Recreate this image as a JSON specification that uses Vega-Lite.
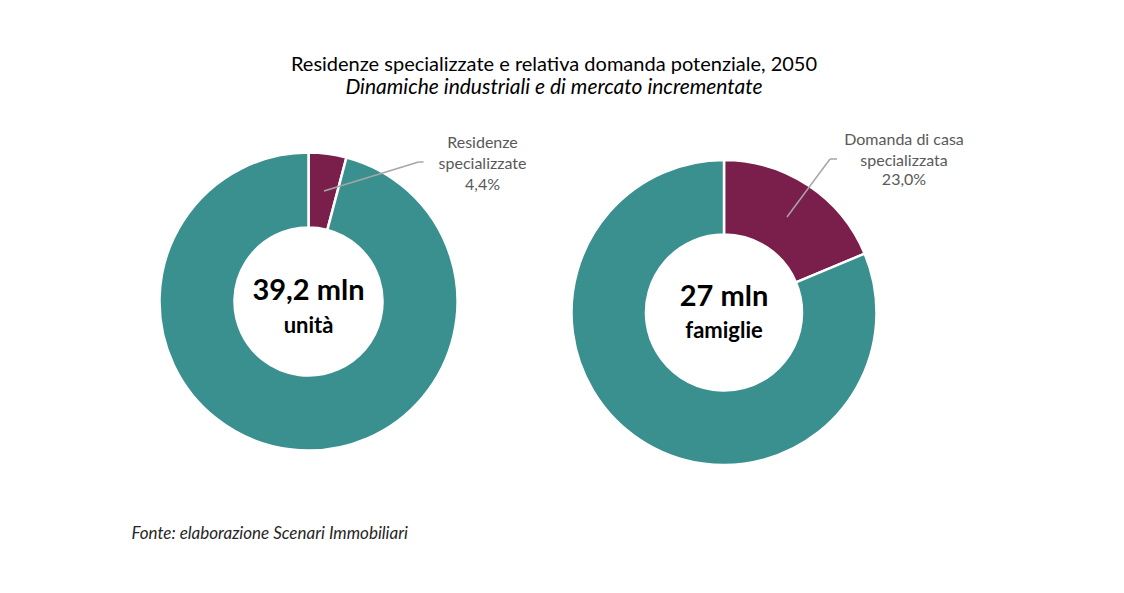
{
  "$schema": "https://vega.github.io/schema/vega-lite/v6.json",
  "width": 1124,
  "height": 593,
  "autosize": {"type": "none"},
  "padding": 0,
  "background": "white",
  "config": {
    "view": {"stroke": null}
  },
  "title": {
    "text": "Residenze specializzate e relativa domanda potenziale, 2050",
    "subtitle": "Dinamiche industriali e di mercato incrementate",
    "anchor": "middle",
    "font": "Lato",
    "fontSize": 20,
    "fontWeight": "normal",
    "color": "#000000",
    "subtitleFont": "Lato",
    "subtitleFontSize": 21,
    "subtitleFontStyle": "italic",
    "subtitleColor": "#000000",
    "subtitlePadding": 2,
    "offset": -98,
    "dx": -8
  },
  "datasets": {
    "fette": [
      {"n": 0, "grafico": "Residenze specializzate", "tipo": "quota", "categoria": "Residenze\nspecializzate", "etichetta": "4,4%", "quota": 0.041, "totale": "39,2 mln", "unita": "unità"},
      {"n": 0, "grafico": "Residenze specializzate", "tipo": "resto", "categoria": "Altro", "etichetta": "95,6%", "quota": 0.959, "totale": "39,2 mln", "unita": "unità"},
      {"n": 1, "grafico": "Domanda potenziale", "tipo": "quota", "categoria": "Domanda di casa\nspecializzata", "etichetta": "23,0%", "quota": 0.187, "totale": "27 mln", "unita": "famiglie"},
      {"n": 1, "grafico": "Domanda potenziale", "tipo": "resto", "categoria": "Altro", "etichetta": "77,0%", "quota": 0.813, "totale": "27 mln", "unita": "famiglie"}
    ]
  },
  "data": {"name": "fette"},
  "encoding": {
    "x": {
      "field": "n",
      "type": "quantitative",
      "scale": {"domain": [0, 1], "range": [308.5, 724], "nice": false, "zero": false},
      "axis": {
        "title": "Fonte: elaborazione Scenari Immobiliari",
        "titleFont": "Lato",
        "titleFontSize": 17,
        "titleFontStyle": "italic",
        "titleFontWeight": "normal",
        "titleColor": "#262626",
        "titleAnchor": "start",
        "titleAlign": "left",
        "titleBaseline": "alphabetic",
        "titleX": 131,
        "titleY": -55,
        "labels": false,
        "ticks": false,
        "domain": false,
        "grid": false
      }
    },
    "y": {
      "field": "n",
      "type": "quantitative",
      "scale": {"domain": [0, 1], "range": [301.5, 312.5], "nice": false, "zero": false},
      "axis": null
    }
  },
  "layer": [
    {
      "transform": [{"filter": "datum.n == 0"}],
      "layer": [
        {
          "mark": {"type": "arc", "outerRadius": 149, "innerRadius": 74, "stroke": "white", "strokeWidth": 2.5},
          "encoding": {
            "theta": {"field": "quota", "type": "quantitative", "stack": true},
            "color": {"field": "tipo", "type": "nominal", "scale": {"domain": ["quota", "resto"], "range": ["#7A1F4B", "#3A8F8F"]}, "legend": null},
            "order": {"field": "tipo", "sort": "ascending"}
          }
        },
        {
          "transform": [{"filter": "datum.tipo == 'quota'"}],
          "layer": [
            {"mark": {"type": "text", "font": "Lato", "fontWeight": "bold", "fontSize": 29, "color": "#000000", "baseline": "alphabetic", "align": "center", "dy": -1.5},
             "encoding": {"text": {"field": "totale"}}},
            {"mark": {"type": "text", "font": "Lato", "fontWeight": "bold", "fontSize": 22, "color": "#000000", "baseline": "alphabetic", "align": "center", "dy": 31.5},
             "encoding": {"text": {"field": "unita"}}},
            {"mark": {"type": "text", "font": "Lato", "fontSize": 16, "color": "#595959", "baseline": "alphabetic", "align": "center", "lineBreak": "\n", "lineHeight": 20.5, "dx": 174, "dy": -153.5},
             "encoding": {"text": {"field": "categoria"}}},
            {"mark": {"type": "text", "font": "Lato", "fontSize": 16, "color": "#595959", "baseline": "alphabetic", "align": "center", "dx": 174, "dy": -111.5},
             "encoding": {"text": {"field": "etichetta"}}},
            {"mark": {"type": "rule", "color": "#A6A6A6", "strokeWidth": 1.5, "xOffset": 15.5, "yOffset": -110.5, "x2Offset": 110, "y2Offset": -139.5},
             "encoding": {"x2": {"field": "n"}, "y2": {"field": "n"}}},
            {"mark": {"type": "rule", "color": "#A6A6A6", "strokeWidth": 1.5, "xOffset": 110, "yOffset": -139.5, "x2Offset": 115, "y2Offset": -139.5},
             "encoding": {"x2": {"field": "n"}, "y2": {"field": "n"}}}
          ]
        }
      ]
    },
    {
      "transform": [{"filter": "datum.n == 1"}],
      "layer": [
        {
          "mark": {"type": "arc", "outerRadius": 152.5, "innerRadius": 78, "stroke": "white", "strokeWidth": 2.5},
          "encoding": {
            "theta": {"field": "quota", "type": "quantitative", "stack": true},
            "color": {"field": "tipo", "type": "nominal", "scale": {"domain": ["quota", "resto"], "range": ["#7A1F4B", "#3A8F8F"]}, "legend": null},
            "order": {"field": "tipo", "sort": "ascending"}
          }
        },
        {
          "transform": [{"filter": "datum.tipo == 'quota'"}],
          "layer": [
            {"mark": {"type": "text", "font": "Lato", "fontWeight": "bold", "fontSize": 29, "color": "#000000", "baseline": "alphabetic", "align": "center", "dy": -6.5},
             "encoding": {"text": {"field": "totale"}}},
            {"mark": {"type": "text", "font": "Lato", "fontWeight": "bold", "fontSize": 22, "color": "#000000", "baseline": "alphabetic", "align": "center", "dy": 25.5},
             "encoding": {"text": {"field": "unita"}}},
            {"mark": {"type": "text", "font": "Lato", "fontSize": 16, "color": "#595959", "baseline": "alphabetic", "align": "center", "lineBreak": "\n", "lineHeight": 20.5, "dx": 180, "dy": -167.5},
             "encoding": {"text": {"field": "categoria"}}},
            {"mark": {"type": "text", "font": "Lato", "fontSize": 16, "color": "#595959", "baseline": "alphabetic", "align": "center", "dx": 180, "dy": -127.5},
             "encoding": {"text": {"field": "etichetta"}}},
            {"mark": {"type": "rule", "color": "#A6A6A6", "strokeWidth": 1.5, "xOffset": 63, "yOffset": -95.5, "x2Offset": 106, "y2Offset": -153.5},
             "encoding": {"x2": {"field": "n"}, "y2": {"field": "n"}}},
            {"mark": {"type": "rule", "color": "#A6A6A6", "strokeWidth": 1.5, "xOffset": 106, "yOffset": -153.5, "x2Offset": 113, "y2Offset": -153.5},
             "encoding": {"x2": {"field": "n"}, "y2": {"field": "n"}}}
          ]
        }
      ]
    }
  ]
}
